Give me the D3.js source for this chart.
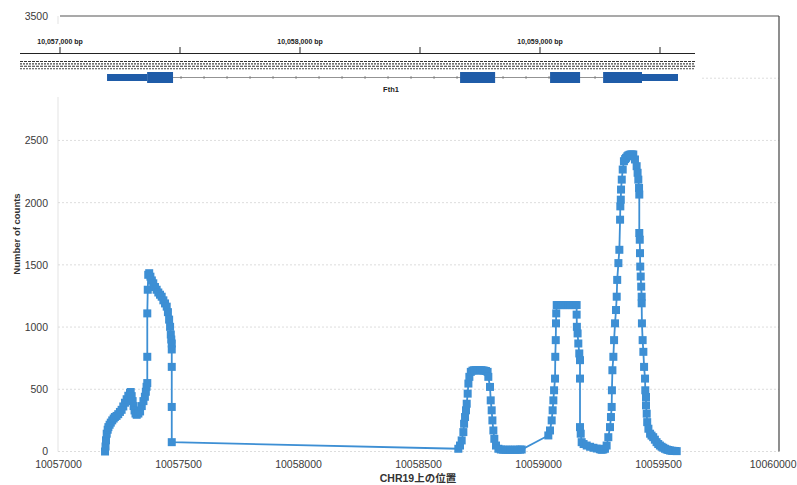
<!DOCTYPE html>
<html><head><meta charset="utf-8">
<script src="https://cdn.jsdelivr.net/npm/d3@7"></script>
<style>body{margin:0;background:#fff}svg{display:block}</style>
</head><body>
<svg id="c" width="797" height="485"></svg>
<script>
// ---- data ----
const positions = [
10057196,10057198,10057200,10057203,10057207,10057210,10057215,10057220,10057226,10057232,10057237,10057244,10057251,10057258,10057265,10057272,10057279,10057286,10057293,10057300,10057303,10057307,10057311,10057315,10057319,10057323,10057328,10057335,10057342,10057349,10057356,10057362,10057366,10057369,10057372,10057372,10057372,10057374,10057376,10057380,10057385,10057391,10057397,10057404,10057411,10057418,10057425,10057432,10057439,10057446,10057453,10057458,10057463,10057467,10057470,10057472,10057474,10057474,10057474,10057474,10057474,
10058668,10058675,10058682,10058689,10058692,10058696,10058700,10058703,10058707,10058710,10058714,10058720,10058727,10058734,10058741,10058748,10058755,10058762,10058769,10058776,10058783,10058790,10058793,10058800,10058803,10058807,10058810,10058814,10058818,10058825,10058835,10058845,10058855,10058865,10058875,10058885,10058895,10058905,10058915,10058925,10058932,
10059043,10059050,10059057,10059061,10059064,10059067,10059071,10059072,10059074,10059075,10059076,10059078,10059085,10059092,10059099,10059106,10059113,10059120,10059127,10059134,10059141,10059148,10059155,10059161,10059161,10059162,10059165,10059168,10059172,10059175,10059175,10059175,10059178,10059182,10059190,10059203,10059217,10059231,10059245,10059258,10059265,10059272,10059279,10059286,10059293,10059300,10059304,10059307,10059308,10059310,10059314,10059317,10059321,10059325,10059328,10059330,10059335,10059339,10059342,10059343,10059345,10059346,10059349,10059353,10059358,10059363,10059367,10059372,10059376,10059381,10059386,10059391,10059397,10059404,10059411,10059415,10059418,10059421,10059422,10059422,10059424,10059425,10059426,10059428,10059430,10059432,10059432,10059433,10059436,10059439,10059442,10059446,10059447,10059450,10059450,10059453,10059455,10059460,10059467,10059473,10059480,10059487,10059494,10059501,10059508,10059515,10059522,10059529,10059536,10059543,10059550,10059557,10059564,10059571,10059578
];
const counts = [
0,40,90,143,175,196,215,232,250,265,277,286,300,318,335,362,392,420,448,470,478,445,405,365,330,305,295,305,322,365,405,440,480,520,550,761,1110,1300,1420,1433,1405,1375,1352,1322,1300,1278,1260,1244,1215,1190,1164,1120,1060,1002,940,900,868,820,680,358,75,
22,48,89,156,223,277,331,384,465,546,600,640,650,653,653,653,653,653,652,650,647,640,600,519,411,331,250,169,102,48,22,16,14,14,14,14,14,14,14,15,16,
129,169,250,331,411,492,586,761,895,1030,1110,1177,1177,1177,1177,1177,1177,1177,1177,1177,1177,1177,1177,1177,1100,1002,949,868,788,734,586,196,143,75,60,48,38,30,24,18,14,16,22,48,115,196,277,358,492,653,761,895,1030,1137,1244,1379,1514,1621,1863,1970,2024,2105,2185,2266,2333,2350,2360,2372,2379,2384,2387,2387,2387,2347,2293,2240,2185,2118,2065,1756,1702,1594,1486,1406,1325,1244,1191,1030,895,801,680,586,492,438,371,304,236,183,143,128,115,95,75,60,48,38,30,22,16,12,8,6,5,4,3
];
const xTicks = [10057000,10057500,10058000,10058500,10059000,10059500,10060000];
const yTicks = [0,500,1000,1500,2000,2500,3000,3500];
const rulerTicks = [10057000,10057500,10058000,10058500,10059000,10059500];
const rulerLabels = ["10,057,000 bp","10,058,000 bp","10,059,000 bp"];
const rulerLabelPos = [10057000,10058000,10059000];
const utrs = [[10057196,10057363],[10059425,10059575]];
const cds = [[10057363,10057471],[10058667,10058813],[10059042,10059167],[10059263,10059425]];
const geneName = "Fth1";
const xTitle = "CHR19上の位置";
const yTitle = "Number of counts";

// ---- chart ----
const svg = d3.select("#c");
const blue = "#3d8fd4";
const x = d3.scaleLinear().domain([10057000,10060000]).range([58,778]);
const y = d3.scaleLinear().domain([0,3500]).range([451.5,16]);

svg.append("rect").attr("width",797).attr("height",485).attr("fill","#fff");

// gridlines
svg.append("g").selectAll("line").data(yTicks.filter(v=>v<3500)).join("line")
  .attr("x1",58).attr("x2",779).attr("y1",d=>y(d)).attr("y2",d=>y(d))
  .attr("stroke","#d4d4d4").attr("stroke-width",0.8).attr("stroke-dasharray","2,2");
svg.append("line").attr("x1",58).attr("x2",58).attr("y1",y(3500)).attr("y2",y(0))
  .attr("stroke","#dcdcdc").attr("stroke-width",0.8);
svg.append("line").attr("x1",60).attr("x2",779).attr("y1",y(3500)).attr("y2",y(3500))
  .attr("stroke","#555").attr("stroke-width",1.2);
svg.append("line").attr("x1",779).attr("x2",779).attr("y1",y(3500)).attr("y2",y(0))
  .attr("stroke","#444").attr("stroke-width",1.2);

// axes
const yAxis = svg.append("g").attr("transform","translate(58,0)")
  .call(d3.axisLeft(y).tickValues(yTicks).tickSize(0).tickPadding(10).tickFormat(d3.format("d")));
const xAxis = svg.append("g").attr("transform",`translate(0,${y(0)})`)
  .call(d3.axisBottom(x).tickValues(xTicks).tickSize(0).tickPadding(9).tickFormat(d3.format("d")));
[yAxis,xAxis].forEach(a=>{
  a.select(".domain").remove();
  a.selectAll("text").attr("font-family","'Liberation Sans',Arial,sans-serif")
   .attr("font-size","10.5px").attr("fill","#3a3a3a");
});
// keep the last x label inside the page
xAxis.selectAll(".tick").filter(d=>d===10060000).select("text")
  .attr("text-anchor","end").attr("x",796-x(10060000));

// series
const pts = positions.map((p,i)=>[p,counts[i]]);
svg.append("path").datum(pts)
  .attr("d",d3.line().x(d=>x(d[0])).y(d=>y(d[1])))
  .attr("fill","none").attr("stroke",blue).attr("stroke-width",1.8);
const ms = 8;
svg.append("g").selectAll("rect").data(pts).join("rect")
  .attr("x",d=>x(d[0])-ms/2).attr("y",d=>y(d[1])-ms/2)
  .attr("width",ms).attr("height",ms).attr("fill",blue);

// titles
svg.append("text").attr("transform","translate(17,234) rotate(-90)")
  .attr("text-anchor","middle").attr("dominant-baseline","middle")
  .attr("font-family","'Liberation Sans',Arial,sans-serif").attr("font-size","9.5px")
  .attr("font-weight","bold").attr("fill","#333").text(yTitle);
svg.append("text").attr("x",418).attr("y",482).attr("text-anchor","middle")
  .attr("font-family","'Liberation Sans','Noto Sans CJK JP',sans-serif").attr("font-size","10.5px")
  .attr("font-weight","bold").attr("fill","#333").text(xTitle);

// ---- gene track overlay ----
const tx = d3.scaleLinear().domain([10057000,10060000]).range([60,780]);
const g = svg.append("g");
g.append("rect").attr("x",18).attr("y",24).attr("width",684).attr("height",73).attr("fill","#fff");
g.append("line").attr("x1",20).attr("x2",695).attr("y1",53.5).attr("y2",53.5).attr("stroke","#222").attr("stroke-width",1);
g.selectAll("line.rt").data(rulerTicks).join("line").attr("class","rt")
  .attr("x1",d=>tx(d)).attr("x2",d=>tx(d)).attr("y1",47).attr("y2",53.5)
  .attr("stroke","#222").attr("stroke-width",1);
g.selectAll("text.rl").data(rulerLabels).join("text").attr("class","rl")
  .attr("x",(d,i)=>tx(rulerLabelPos[i])).attr("y",43.5).attr("text-anchor","middle")
  .attr("font-family","'Liberation Sans',Arial,sans-serif").attr("font-size","7px")
  .attr("font-weight","bold").attr("fill","#222").text(d=>d);
[61.5,63.9,66.3,68.7].forEach((yy,i)=>{
  g.append("line").attr("x1",20).attr("x2",695).attr("y1",yy).attr("y2",yy)
   .attr("stroke", i%2? "#444":"#333").attr("stroke-width",1.1)
   .attr("stroke-dasharray", i%2? "2,1":"3,1");
});
// intron
const gy = 77.5;
g.append("line").attr("x1",tx(cds[0][1])).attr("x2",tx(cds[3][0])).attr("y1",gy).attr("y2",gy)
  .attr("stroke","#777").attr("stroke-width",0.8);
g.selectAll("line.ar").data(d3.range(tx(cds[0][1])+8, tx(cds[3][0])-4, 23)).join("line").attr("class","ar")
  .attr("x1",d=>d).attr("x2",d=>d).attr("y1",gy-1.5).attr("y2",gy+1.5)
  .attr("stroke","#777").attr("stroke-width",0.8);
g.selectAll("rect.utr").data(utrs).join("rect").attr("class","utr")
  .attr("x",d=>tx(d[0])).attr("width",d=>tx(d[1])-tx(d[0]))
  .attr("y",gy-3.5).attr("height",7).attr("fill","#1f5ca8");
g.selectAll("rect.cds").data(cds).join("rect").attr("class","cds")
  .attr("x",d=>tx(d[0])).attr("width",d=>tx(d[1])-tx(d[0]))
  .attr("y",gy-5.5).attr("height",11).attr("fill","#1f5ca8");
g.append("text").attr("x",391).attr("y",92).attr("text-anchor","middle")
  .attr("font-family","'Liberation Sans',Arial,sans-serif").attr("font-size","7.5px")
  .attr("font-weight","bold").attr("fill","#222").text(geneName);
</script>
</body></html>
